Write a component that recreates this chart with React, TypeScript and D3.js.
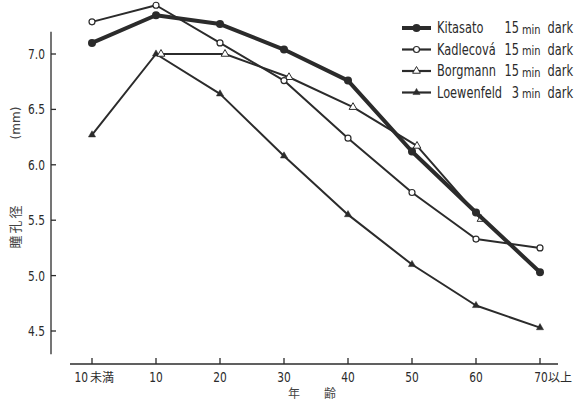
import React, { useRef, useEffect } from "react";
import * as d3 from "d3";

const ageGroups = ["10未満", "10", "20", "30", "40", "50", "60", "70以上"];
const kitasato = [7.1, 7.35, 7.27, 7.04, 6.76, 6.12, 5.57, 5.03];
const kadlecova = [7.29, 7.44, 7.1, 6.76, 6.24, 5.75, 5.33, 5.25];
const borgmann = [null, 7.0, 7.0, 6.79, 6.52, 6.17, 5.51, null];
const loewenfeld = [6.27, 7.0, 6.64, 6.08, 5.55, 5.1, 4.73, 4.53];
const yTicks = [4.5, 5.0, 5.5, 6.0, 6.5, 7.0];
const seriesNames = ["Kitasato", "Kadlecová", "Borgmann", "Loewenfeld"];
const darkMinutes = ["15", "15", "15", "3"];

const W = 583;
const H = 404;
const INK = "#2b2b2b";
const FONT = "'DejaVu Sans', sans-serif";
const CJK = "'Noto Sans CJK JP', sans-serif";
const NARROW = 0.76; // horizontal squeeze to mimic the condensed typeface

type Series = {
  name: string;
  minutes: string;
  values: (number | null)[];
  width: number;
  marker: "dot" | "circle" | "tri-open" | "tri";
  dx: number;
};

function App() {
  const ref = useRef<SVGSVGElement>(null);

  useEffect(() => {
    const svg = d3.select(ref.current);
    svg.selectAll("*").remove();

    const x = d3.scalePoint<string>().domain(ageGroups).range([92, 540]);
    const y = d3.scaleLinear().domain([4.5, 7.0]).range([331, 54]);

    const series: Series[] = [
      { name: seriesNames[0], minutes: darkMinutes[0], values: kitasato, width: 4, marker: "dot", dx: 0 },
      { name: seriesNames[1], minutes: darkMinutes[1], values: kadlecova, width: 2, marker: "circle", dx: 0 },
      { name: seriesNames[2], minutes: darkMinutes[2], values: borgmann, width: 2, marker: "tri-open", dx: 5 },
      { name: seriesNames[3], minutes: darkMinutes[3], values: loewenfeld, width: 2, marker: "tri", dx: 0 },
    ];

    // condensed-looking text: squeeze horizontally around its anchor point
    const label = (g: any, tx: number, ty: number, s: string, size: number, anchor = "start") =>
      g.append("g").attr("transform", `translate(${tx},${ty}) scale(${NARROW},1)`)
        .append("text").attr("font-family", FONT).attr("font-size", size)
        .attr("fill", INK).attr("text-anchor", anchor).attr("dy", "0.36em").text(s);

    // y axis
    const yAxisX = 51;
    svg.append("line")
      .attr("x1", yAxisX).attr("x2", yAxisX)
      .attr("y1", y(7.2)).attr("y2", y(4.29))
      .attr("stroke", INK).attr("stroke-width", 1.3);
    const yAxis = svg.append("g");
    yTicks.forEach((d) => {
      yAxis.append("line").attr("x1", yAxisX).attr("x2", yAxisX + 5)
        .attr("y1", y(d)).attr("y2", y(d))
        .attr("stroke", INK).attr("stroke-width", 1.3);
      label(yAxis, 45, y(d), d.toFixed(1), 14, "end");
    });

    // x axis
    const xAxisY = 364;
    svg.append("line")
      .attr("x1", 70).attr("x2", 558).attr("y1", xAxisY).attr("y2", xAxisY)
      .attr("stroke", INK).attr("stroke-width", 1.3);
    const xAxis = svg.append("g");
    ageGroups.forEach((d, i) => {
      const px = x(d)!;
      xAxis.append("line").attr("x1", px).attr("x2", px)
        .attr("y1", xAxisY).attr("y2", xAxisY - 6)
        .attr("stroke", INK).attr("stroke-width", 1.3);
      const m = d.match(/^(\d+)(.*)$/)!;
      const num = m[1];
      const suffix = m[2];
      const ly = 377;
      if (i === 0) {
        label(xAxis, px - 4, ly, num, 14, "end");
        xAxis.append("text").attr("x", px - 2).attr("y", ly).attr("dy", "0.38em")
          .attr("font-family", CJK).attr("font-size", 12).attr("fill", INK).text(suffix);
      } else if (suffix) {
        label(xAxis, px + 1, ly, num, 14, "middle");
        xAxis.append("text").attr("x", px + 8).attr("y", ly).attr("dy", "0.38em")
          .attr("font-family", CJK).attr("font-size", 12).attr("fill", INK).text(suffix);
      } else {
        label(xAxis, px, ly, num, 14, "middle");
      }
    });

    // axis titles
    svg.append("text").attr("x", 312).attr("y", 398).attr("text-anchor", "middle")
      .attr("font-family", CJK).attr("font-size", 12).attr("fill", "#444")
      .attr("xml:space", "preserve").text("年　　齢");
    svg.append("g").attr("transform", "translate(16,123) rotate(-90)")
      .append("text").attr("text-anchor", "middle").attr("dy", "0.36em")
      .attr("font-family", FONT).attr("font-size", 12)
      .attr("fill", "#444").text("(mm)");
    svg.append("text").attr("transform", "translate(20,226) rotate(-90)")
      .attr("text-anchor", "middle").attr("font-family", CJK).attr("font-size", 13)
      .attr("fill", "#444").attr("letter-spacing", 2).text("瞳孔径");

    const drawMarker = (g: any, kind: Series["marker"], cx: number, cy: number) => {
      if (kind === "dot") {
        g.append("circle").attr("cx", cx).attr("cy", cy).attr("r", 4).attr("fill", INK);
      } else if (kind === "circle") {
        g.append("circle").attr("cx", cx).attr("cy", cy).attr("r", 3)
          .attr("fill", "white").attr("stroke", INK).attr("stroke-width", 1.2);
      } else {
        const tri = d3.symbol().type(d3.symbolTriangle).size(kind === "tri" ? 22 : 26)();
        g.append("path").attr("d", tri).attr("transform", `translate(${cx},${cy})`)
          .attr("fill", kind === "tri" ? INK : "white")
          .attr("stroke", INK).attr("stroke-width", kind === "tri" ? 0.5 : 1);
      }
    };

    // lines (draw in reverse so Kitasato is on top)
    const plot = svg.append("g");
    [...series].reverse().forEach((s) => {
      const pts = s.values
        .map((v, i) => (v == null ? null : [x(ageGroups[i])! + s.dx, y(v)] as [number, number]))
        .filter((p): p is [number, number] => p !== null);
      plot.append("path").attr("d", d3.line()(pts)).attr("fill", "none")
        .attr("stroke", INK).attr("stroke-width", s.width)
        .attr("stroke-linejoin", "round").attr("stroke-linecap", "round");
      pts.forEach(([px, py]) => drawMarker(plot, s.marker, px, py));
    });

    // legend
    const legend = svg.append("g");
    series.forEach((s, i) => {
      const ly = 28 + i * 21.5;
      legend.append("line").attr("x1", 402).attr("x2", 431).attr("y1", ly).attr("y2", ly)
        .attr("stroke", INK).attr("stroke-width", s.width === 4 ? 4 : 2.2);
      drawMarker(legend, s.marker, 416.5, ly);
      label(legend, 437, ly, s.name, 15);
      label(legend, 519, ly, s.minutes, 15, "end");
      label(legend, 522, ly + 1, "min", 13);
      label(legend, 573, ly, "dark", 15, "end");
    });
  }, []);

  return (
    <div style={{ position: "absolute", left: 0, top: 0, background: "white" }}>
      <svg ref={ref} width={W} height={H} style={{ display: "block" }}></svg>
    </div>
  );
}

export default App;
